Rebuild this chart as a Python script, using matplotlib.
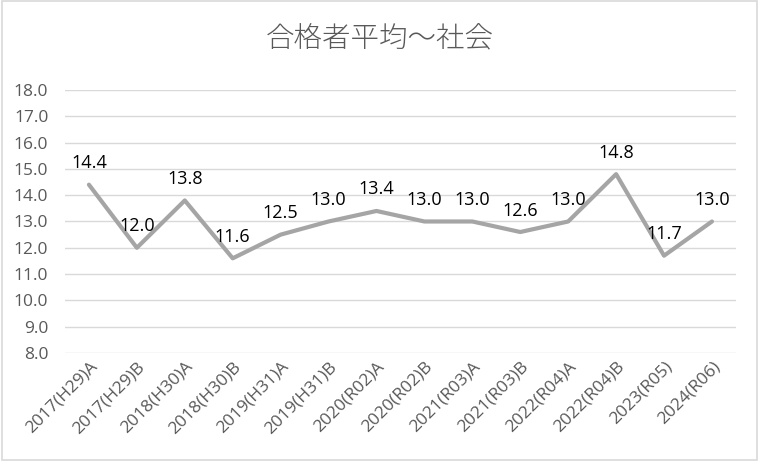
import matplotlib
matplotlib.use("Agg")
import matplotlib.pyplot as plt
from matplotlib.patches import Rectangle

categories = ["2017(H29)A", "2017(H29)B", "2018(H30)A", "2018(H30)B", "2019(H31)A",
              "2019(H31)B", "2020(R02)A", "2020(R02)B", "2021(R03)A", "2021(R03)B",
              "2022(R04)A", "2022(R04)B", "2023(R05)", "2024(R06)"]
values = [14.4, 12.0, 13.8, 11.6, 12.5, 13.0, 13.4, 13.0, 13.0, 12.6, 13.0, 14.8, 11.7, 13.0]
yticks = [8.0, 9.0, 10.0, 11.0, 12.0, 13.0, 14.0, 15.0, 16.0, 17.0, 18.0]
title = "合格者平均～社会"

plt.rcParams['font.family'] = ['Open Sans', 'Noto Sans CJK JP', 'DejaVu Sans']

fig = plt.figure(figsize=(7.59, 4.61), dpi=100)
fig.patches.append(Rectangle((0.002, 0.002), 0.996, 0.996, transform=fig.transFigure,
                             fill=False, edgecolor='#D9D9D9', linewidth=1.2))
ax = fig.add_axes([0.0856, 0.2343, 0.884, 0.5705])

x = list(range(len(categories)))
ax.plot(x, values, color='#A5A5A5', linewidth=3.0, solid_capstyle='round', solid_joinstyle='round', zorder=3)
for xi, v in zip(x, values):
    ax.annotate(f"{v:.1f}", (xi, v), xytext=(0, 9), textcoords='offset points',
                ha='center', va='bottom', fontsize=13, color='black')

ax.set_xlim(-0.5, len(categories) - 0.5)
ax.set_ylim(8.0, 18.0)
ax.set_yticks(yticks)
ax.set_yticklabels([f"{t:.1f}" for t in yticks])
ax.set_xticks(x)
ax.set_xticklabels(categories, rotation=45, ha='right', rotation_mode='anchor')
ax.grid(axis='y', color='#D9D9D9', linewidth=1.0)
ax.set_axisbelow(True)
for s in ax.spines.values():
    s.set_visible(False)
ax.tick_params(axis='both', length=0, colors='#595959', labelsize=12.5)
ax.tick_params(axis='y', pad=12)
ax.tick_params(axis='x', pad=4)

fig.text(0.5, 0.915, title, ha='center', va='center', fontsize=20.5, color='#595959',
         family=['Noto Sans CJK JP', 'DejaVu Sans'], fontweight='light')

fig.savefig("out.png", dpi=100)
